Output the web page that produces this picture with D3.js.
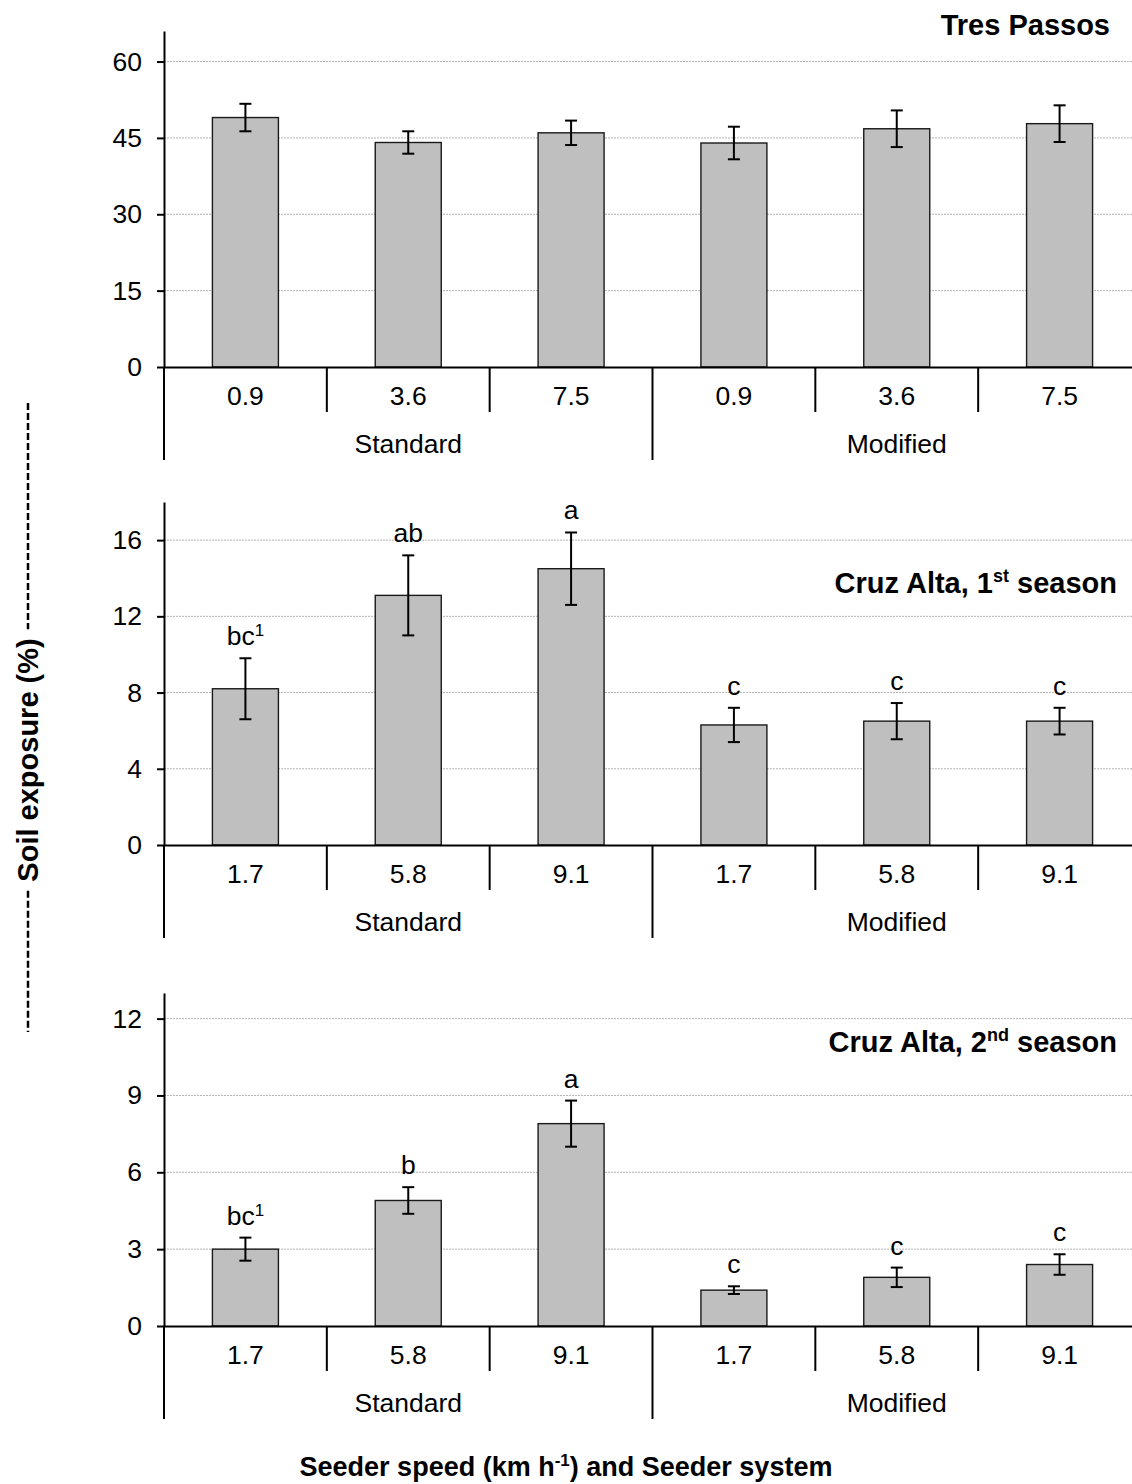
<!DOCTYPE html>
<html>
<head>
<meta charset="utf-8">
<script src="https://cdn.jsdelivr.net/npm/d3@7"></script>
<style>
  body { margin: 0; background: #fff; }
  svg text { font-family: "Liberation Sans", Arial, sans-serif; fill: #000; }
</style>
</head>
<body>
<svg id="chart" width="1132" height="1484"></svg>
<script>
// ---- data ----
const speedsTresPassos = ["0.9", "3.6", "7.5", "0.9", "3.6", "7.5"];
const speedsCruzAlta = ["1.7", "5.8", "9.1", "1.7", "5.8", "9.1"];
const systems = ["Standard", "Modified"];

const tresPassosMean = [49.0, 44.1, 46.0, 44.0, 46.8, 47.8];
const tresPassosErr = [2.7, 2.2, 2.4, 3.2, 3.6, 3.6];
const tresPassosTicks = [0, 15, 30, 45, 60];

const cruz1Mean = [8.2, 13.1, 14.5, 6.3, 6.5, 6.5];
const cruz1Err = [1.6, 2.1, 1.9, 0.9, 0.95, 0.7];
const cruz1Letters = ["bc", "ab", "a", "c", "c", "c"];
const cruz1Ticks = [0, 4, 8, 12, 16];

const cruz2Mean = [3.0, 4.9, 7.9, 1.4, 1.9, 2.4];
const cruz2Err = [0.45, 0.52, 0.9, 0.15, 0.38, 0.4];
const cruz2Letters = ["bc", "b", "a", "c", "c", "c"];
const cruz2Ticks = [0, 3, 6, 9, 12];

// footnote marker attached to the first letter group
const letterNote = ["1", "", "", "", "", ""];

// ---- layout ----
const svg = d3.select("#chart");
const left = 164, right = 1141;
const FONT = 26.5;
const TITLE = 29;

const panels = [
  { speeds: speedsTresPassos, mean: tresPassosMean, err: tresPassosErr, letters: null,
    ticks: tresPassosTicks, max: 66, zeroY: 367, topY: 31,
    title: ["Tres Passos", "", ""], titleX: 1110, titleY: 35 },
  { speeds: speedsCruzAlta, mean: cruz1Mean, err: cruz1Err, letters: cruz1Letters,
    ticks: cruz1Ticks, max: 18, zeroY: 845, topY: 502,
    title: ["Cruz Alta, 1", "st", " season"], titleX: 1117, titleY: 593 },
  { speeds: speedsCruzAlta, mean: cruz2Mean, err: cruz2Err, letters: cruz2Letters,
    ticks: cruz2Ticks, max: 13, zeroY: 1326, topY: 993,
    title: ["Cruz Alta, 2", "nd", " season"], titleX: 1117, titleY: 1052 }
];

const x = d3.scaleBand().domain(d3.range(6)).range([left, right]).padding(0);
const barW = 66;
const capW = 12;

panels.forEach(p => {
  const g = svg.append("g");
  const y = d3.scaleLinear().domain([0, p.max]).range([p.zeroY, p.topY]);

  // horizontal gridlines
  g.append("g").selectAll("line")
    .data(p.ticks.filter(t => t > 0))
    .join("line")
    .attr("x1", left).attr("x2", right)
    .attr("y1", d => y(d)).attr("y2", d => y(d))
    .attr("stroke", "#b3b3b3").attr("stroke-width", 1)
    .attr("stroke-dasharray", "2,1");

  // bars
  g.append("g").selectAll("rect")
    .data(p.mean)
    .join("rect")
    .attr("x", (d, i) => x(i) + (x.bandwidth() - barW) / 2)
    .attr("y", d => y(d))
    .attr("width", barW)
    .attr("height", d => y(0) - y(d))
    .attr("fill", "#bfbfbf")
    .attr("stroke", "#1a1a1a")
    .attr("stroke-width", 1.4);

  // error bars
  const eb = g.append("g").attr("stroke", "#000").attr("stroke-width", 2);
  p.mean.forEach((m, i) => {
    const cx = x(i) + x.bandwidth() / 2;
    const hi = y(m + p.err[i]), lo = y(m - p.err[i]);
    eb.append("line").attr("x1", cx).attr("x2", cx).attr("y1", hi).attr("y2", lo);
    eb.append("line").attr("x1", cx - capW / 2).attr("x2", cx + capW / 2).attr("y1", hi).attr("y2", hi);
    eb.append("line").attr("x1", cx - capW / 2).attr("x2", cx + capW / 2).attr("y1", lo).attr("y2", lo);
  });

  // significance letters
  if (p.letters) {
    const lt = g.append("g").selectAll("text")
      .data(p.letters)
      .join("text")
      .attr("x", (d, i) => x(i) + x.bandwidth() / 2)
      .attr("y", (d, i) => y(p.mean[i] + p.err[i]) - 13)
      .attr("text-anchor", "middle")
      .attr("font-size", FONT);
    lt.each(function (d, i) {
      const t = d3.select(this);
      t.append("tspan").text(d);
      if (letterNote[i]) {
        t.append("tspan").text(letterNote[i])
          .attr("font-size", 17).attr("dy", -9);
      }
    });
  }

  // y axis
  const ya = g.append("g")
    .attr("transform", `translate(${left},0)`)
    .call(d3.axisLeft(y).tickValues(p.ticks).tickSize(7).tickSizeOuter(0).tickPadding(15));
  ya.select(".domain").attr("stroke", "#000").attr("stroke-width", 2);
  ya.selectAll(".tick line").attr("stroke", "#000").attr("stroke-width", 2);
  ya.selectAll(".tick text").attr("font-size", FONT).attr("font-family", null);

  // category axis: speed labels
  const xa = g.append("g")
    .attr("transform", `translate(0,${p.zeroY})`)
    .call(d3.axisBottom(x).tickFormat(i => p.speeds[i]).tickSize(0).tickPadding(19));
  xa.select(".domain").attr("stroke", "#000").attr("stroke-width", 2);
  xa.selectAll(".tick text").attr("font-size", FONT).attr("font-family", null);

  // separators between speeds (short) and between systems (long)
  g.append("g").selectAll("line")
    .data(d3.range(7))
    .join("line")
    .attr("x1", i => i < 6 ? x(i) : right)
    .attr("x2", i => i < 6 ? x(i) : right)
    .attr("y1", p.zeroY)
    .attr("y2", i => (i % 3 === 0) ? p.zeroY + 93 : p.zeroY + 45)
    .attr("stroke", "#000").attr("stroke-width", 2);

  // system labels
  g.append("g").selectAll("text")
    .data(systems)
    .join("text")
    .attr("x", (d, k) => (x(k * 3) + (k === 1 ? right : x(3))) / 2)
    .attr("y", p.zeroY + 86)
    .attr("text-anchor", "middle")
    .attr("font-size", FONT)
    .text(d => d);

  // panel title
  const tt = g.append("text")
    .attr("x", p.titleX).attr("y", p.titleY)
    .attr("text-anchor", "end")
    .attr("font-size", TITLE).attr("font-weight", "bold");
  tt.append("tspan").text(p.title[0]);
  if (p.title[1]) {
    tt.append("tspan").text(p.title[1]).attr("font-size", 18).attr("dy", -11);
    tt.append("tspan").text(p.title[2]).attr("dy", 11);
  }
});

// x axis title
const xt = svg.append("text")
  .attr("x", 566).attr("y", 1476)
  .attr("text-anchor", "middle")
  .attr("font-size", 27).attr("font-weight", "bold");
xt.append("tspan").text("Seeder speed (km h");
xt.append("tspan").text("-1").attr("font-size", 17).attr("dy", -10);
xt.append("tspan").text(") and Seeder system").attr("dy", 10);

// y axis title with dashed leaders
const yCenter = 760, yX = 28;
const yt = svg.append("text")
  .attr("transform", `translate(${yX + 10},${yCenter}) rotate(-90)`)
  .attr("text-anchor", "middle")
  .attr("font-size", 29).attr("font-weight", "bold")
  .text("Soil exposure (%)");
const half = yt.node().getComputedTextLength() / 2;
[[403, yCenter - half - 9], [yCenter + half + 9, 1032]].forEach(([a, b]) => {
  svg.append("line")
    .attr("x1", yX).attr("x2", yX).attr("y1", a).attr("y2", b)
    .attr("stroke", "#000").attr("stroke-width", 2.5)
    .attr("stroke-dasharray", "7,3");
});
</script>
</body>
</html>
